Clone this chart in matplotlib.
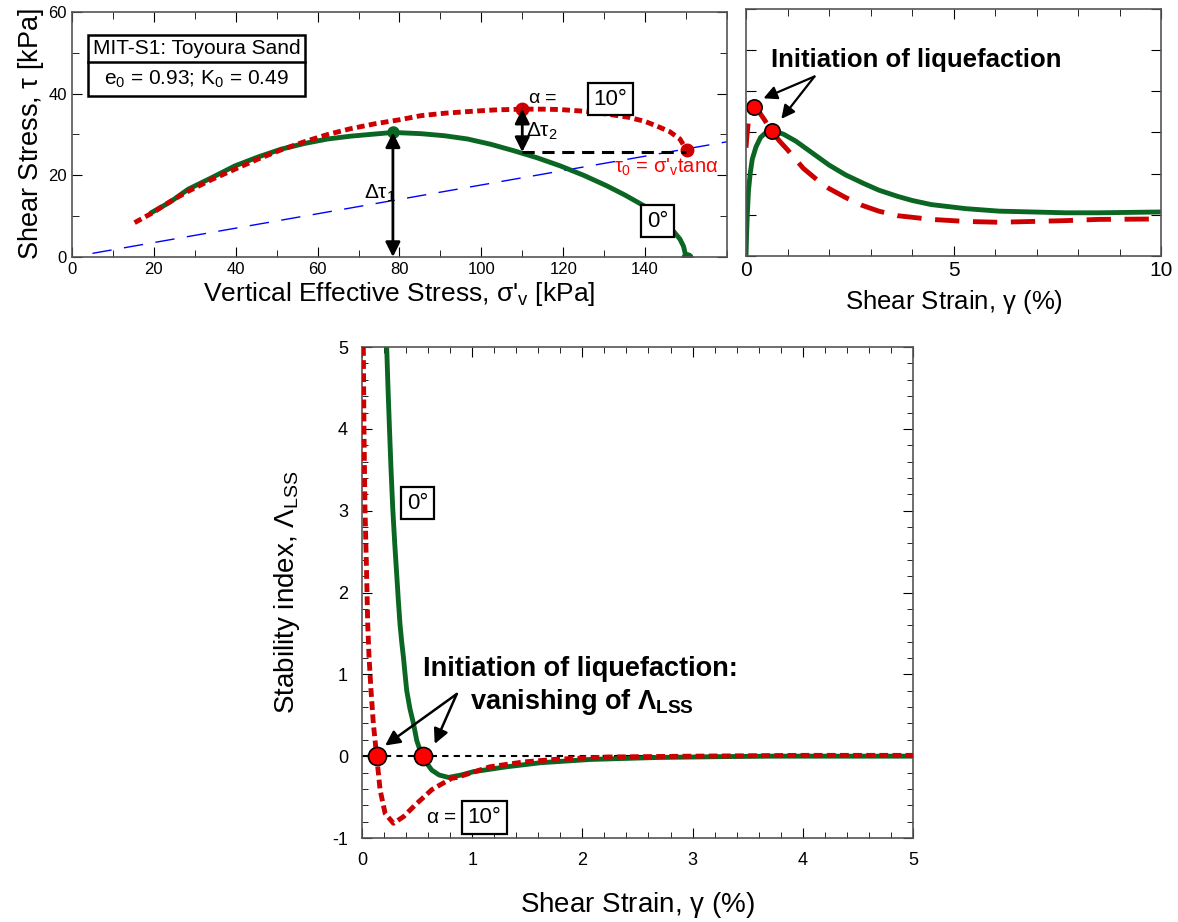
import numpy as np
import matplotlib.pyplot as plt
from matplotlib.patches import Rectangle
from matplotlib.ticker import MultipleLocator

plt.rcParams['font.family'] = ['Liberation Sans', 'DejaVu Sans']
plt.rcParams['mathtext.fontset'] = 'custom'
plt.rcParams['mathtext.rm'] = 'Liberation Sans'
plt.rcParams['mathtext.it'] = 'Liberation Sans'
plt.rcParams['mathtext.bf'] = 'Liberation Sans:bold'
plt.rcParams['axes.unicode_minus'] = False

GREEN = '#0b6623'
RED = '#cc0000'

# --- stress path (top left): vertical effective stress vs shear stress
sv_0 = [19.3, 23.9, 28.4, 34.1, 39.8, 45.5, 51.1, 56.8, 62.5, 68.2, 73.9, 78.4, 85.2, 90.9,
        96.6, 102.3, 108, 113.6, 119.3, 125, 130.7, 135.2, 139.8, 143.5, 146.6, 148.5, 149.4, 150]
tau_0 = [10.8, 13.4, 16.6, 19.4, 22.3, 24.5, 26.4, 27.8, 28.9, 29.6, 30.1, 30.5, 30.2, 29.7,
         28.9, 27.6, 26.0, 24.3, 22.3, 20.0, 17.4, 15.1, 12.5, 9.8, 6.7, 4.4, 2.6, 0]
sv_10 = [15.3, 20, 24, 28.4, 34, 39.8, 45.5, 51, 57, 62.5, 68, 73.9, 80, 85.2, 91, 96.6, 103,
         109.7, 115, 119.3, 125, 130.7, 136, 140, 143, 146, 148.5, 150]
tau_10 = [8.4, 11.0, 13.6, 16.1, 18.9, 21.5, 24.0, 26.2, 28.3, 30.0, 31.4, 32.6, 33.6, 34.6,
          35.2, 35.6, 36.0, 36.2, 36.2, 36.1, 35.7, 35.0, 34.2, 33.2, 32.0, 30.7, 28.9, 26.4]
sv_line = [5, 160]
alpha_deg = 10

# --- shear stress vs shear strain (top right)
g_0 = [0, 0.01, 0.03, 0.06, 0.1, 0.15, 0.24, 0.35, 0.5, 0.63, 0.9, 1.2, 1.6, 2.0, 2.4, 2.84,
       3.2, 3.65, 4.0, 4.46, 5.3, 6.1, 6.9, 7.7, 8.5, 10]
t_0 = [0, 4, 10, 16, 20, 23.5, 26.5, 28.8, 30.2, 30.5, 29.6, 27.9, 25.0, 22.1, 19.7, 17.6,
       16.0, 14.5, 13.5, 12.5, 11.5, 10.9, 10.7, 10.5, 10.5, 10.7]
g_10 = [0, 0.02, 0.06, 0.12, 0.19, 0.3, 0.45, 0.6, 0.8, 1.0, 1.38, 1.7, 2.0, 2.4, 2.8, 3.2,
        3.65, 4.46, 5.3, 6.1, 6.9, 7.7, 8.5, 10]
t_10 = [26.3, 29, 33, 35.5, 36.1, 35.2, 33.0, 30.5, 28.0, 25.8, 21.3, 18.6, 16.4, 14.2, 12.3,
        10.9, 9.8, 8.9, 8.4, 8.2, 8.4, 8.6, 8.9, 9.0]

# --- stability index (bottom)
s_g0 = [0.224, 0.236, 0.248, 0.263, 0.279, 0.297, 0.315, 0.33, 0.345, 0.36, 0.376, 0.391,
        0.406, 0.435, 0.467, 0.497, 0.53, 0.558, 0.59, 0.633, 0.70, 0.785, 0.9, 1.01, 1.31,
        1.62, 2.07, 2.68, 3.3, 3.7, 5]
s_l0 = [5, 4.5, 4.05, 3.52, 3.03, 2.6, 2.22, 1.9, 1.61, 1.4, 1.21, 1.0, 0.80, 0.58, 0.40,
        0.19, 0.06, 0, -0.09, -0.17, -0.23, -0.26, -0.23, -0.19, -0.13, -0.08, -0.04, -0.016,
        -0.005, 0, 0]
s_g10 = [0.012, 0.018, 0.027, 0.042, 0.052, 0.064, 0.082, 0.103, 0.133, 0.164, 0.21, 0.285,
         0.376, 0.48, 0.633, 0.71, 0.815, 0.86, 1.16, 1.47, 1.77, 2.23, 2.98, 4.0, 5]
s_l10 = [5, 4.0, 3.03, 2.22, 1.61, 1.21, 0.80, 0.40, 0, -0.41, -0.70, -0.82, -0.74, -0.60,
         -0.41, -0.35, -0.27, -0.26, -0.13, -0.07, -0.037, -0.01, 0, 0.01, 0.01]
zero_pts = [0.133, 0.558]

fig = plt.figure(figsize=(11.78, 9.22), dpi=100)

# ============ top left
ax1 = fig.add_axes([0.0611, 0.7213, 0.556, 0.2657])
tan_a = np.tan(np.radians(alpha_deg))
ax1.plot(sv_line, np.array(sv_line) * tan_a, color='blue', lw=1, dashes=(14, 9))
ax1.plot(sv_0, tau_0, color=GREEN, lw=3.5, solid_capstyle='round')
ax1.plot(sv_10, tau_10, color=RED, lw=3.5, dashes=(1.6, 0.9))
ax1.plot([78.4, 150.2], [30.5, -0.3], 'o', color=GREEN, ms=8)
ax1.plot([110, 150.2], [36.3, 26.2], 'o', color=RED, ms=9)
ax1.plot([110, 150], [25.7, 25.7], color='black', lw=2.2, dashes=(4, 2.5))
arr = dict(arrowstyle='<|-|>', color='black', lw=2, mutation_scale=22, shrinkA=0, shrinkB=0)
ax1.annotate('', xy=(78.4, 0), xytext=(78.4, 30.5), arrowprops=arr)
ax1.annotate('', xy=(110, 25.7), xytext=(110, 36.3), arrowprops=arr)
ax1.text(79, 15.5, r'$\Delta\tau_1$', fontsize=15, ha='right', va='center')
ax1.text(111, 30.8, r'$\Delta\tau_2$', fontsize=15, ha='left', va='center')
ax1.text(111.5, 38.8, r'$\alpha$ =', fontsize=14, ha='left', va='center')
ax1.text(131.5, 38.6, '10°', fontsize=16, ha='center', va='center',
         bbox=dict(boxstyle='square,pad=0.25', fc='white', ec='black', lw=1.6))
ax1.text(143, 8.8, '0°', fontsize=16, ha='center', va='center',
         bbox=dict(boxstyle='square,pad=0.25', fc='white', ec='black', lw=1.6))
ax1.text(132.5, 22, r"$\tau_0$ = σ'$_{\rm v}$tan$\alpha$", fontsize=14.5, color='red',
         ha='left', va='center')
ax1.add_patch(Rectangle((0.024, 0.657), 0.332, 0.249, transform=ax1.transAxes,
                        fill=False, ec='black', lw=1.8))
ax1.plot([0.024, 0.356], [0.796, 0.796], color='black', lw=1.8, transform=ax1.transAxes)
ax1.text(0.19, 0.851, 'MIT-S1: Toyoura Sand', transform=ax1.transAxes, fontsize=15,
         ha='center', va='center')
ax1.text(0.19, 0.726, r'e$_0$ = 0.93; K$_0$ = 0.49', transform=ax1.transAxes, fontsize=15,
         ha='center', va='center')
ax1.set_xlim(0, 160)
ax1.set_ylim(0, 60)
ax1.xaxis.set_minor_locator(MultipleLocator(10))
ax1.yaxis.set_major_locator(MultipleLocator(20))
ax1.yaxis.set_minor_locator(MultipleLocator(10))
ax1.set_xticks(range(0, 141, 20))
ax1.tick_params(which='both', direction='in', top=True, right=True, labelsize=12)
ax1.tick_params(which='major', length=7)
ax1.tick_params(which='minor', length=5)
ax1.set_xlabel(r"Vertical Effective Stress, σ'$_{\rm v}$ [kPa]", fontsize=19, labelpad=2)
ax1.set_ylabel(r'Shear Stress, $\tau$ [kPa]', fontsize=19.5, labelpad=2)

# ============ top right
ax2 = fig.add_axes([0.6333, 0.7223, 0.3523, 0.268])
ax2.plot(g_0, t_0, color=GREEN, lw=3.5)
ax2.plot(g_10, t_10, color=RED, lw=3.5, dashes=(5, 2.8))
ax2.plot([0.19, 0.63], [36.1, 30.3], 'o', mfc='red', mec='black', mew=1.2, ms=11)
ax2.text(0.6, 47.5, 'Initiation of liquefaction', fontsize=18.5, fontweight='bold',
         ha='left', va='center')
arr2 = dict(arrowstyle='-|>', color='black', lw=1.6, mutation_scale=20, shrinkA=0, shrinkB=0)
ax2.annotate('', xy=(0.42, 38.3), xytext=(1.65, 43.6), arrowprops=arr2)
ax2.annotate('', xy=(0.85, 33.3), xytext=(1.65, 43.6), arrowprops=arr2)
ax2.set_xlim(0, 10)
ax2.set_ylim(0, 60)
ax2.xaxis.set_major_locator(MultipleLocator(5))
ax2.xaxis.set_minor_locator(MultipleLocator(1))
ax2.yaxis.set_major_locator(MultipleLocator(10))
ax2.set_yticklabels([])
ax2.tick_params(which='both', direction='in', top=True, right=True, labelsize=15)
ax2.tick_params(which='major', length=7)
ax2.tick_params(which='minor', length=5)
ax2.set_xlabel(r'Shear Strain, $\gamma$ (%)', fontsize=18.5, labelpad=6)

# ============ bottom
ax3 = fig.add_axes([0.3073, 0.0911, 0.4677, 0.5325])
ax3.axhline(0, color='black', lw=1.5, dashes=(3, 2.5), zorder=1)
ax3.plot(s_g0, s_l0, color=GREEN, lw=3.5, zorder=2)
ax3.plot(s_g10, s_l10, color=RED, lw=3.5, dashes=(1.8, 0.9), zorder=3)
ax3.plot(zero_pts, [0, 0], 'o', mfc='red', mec='black', mew=1.2, ms=13, zorder=4)
ax3.text(0.503, 3.09, '0°', fontsize=16, ha='center', va='center',
         bbox=dict(boxstyle='square,pad=0.25', fc='white', ec='black', lw=1.6))
ax3.text(0.58, -0.75, r'$\alpha$ =', fontsize=15, ha='left', va='center')
ax3.text(1.11, -0.75, '10°', fontsize=16, ha='center', va='center',
         bbox=dict(boxstyle='square,pad=0.25', fc='white', ec='black', lw=1.6))
ax3.text(0.555, 1.07, 'Initiation of liquefaction:', fontsize=19.5, fontweight='bold',
         ha='left', va='center')
ax3.text(0.98, 0.66, r'vanishing of $\mathbf{\Lambda}_{\mathbf{LSS}}$', fontsize=19.5,
         fontweight='bold', ha='left', va='center')
arr3 = dict(arrowstyle='-|>', color='black', lw=1.8, mutation_scale=22, shrinkA=0, shrinkB=0)
ax3.annotate('', xy=(0.21, 0.13), xytext=(0.86, 0.76), arrowprops=arr3)
ax3.annotate('', xy=(0.66, 0.15), xytext=(0.86, 0.76), arrowprops=arr3)
ax3.set_xlim(0, 5)
ax3.set_ylim(-1, 5)
ax3.xaxis.set_major_locator(MultipleLocator(1))
ax3.xaxis.set_minor_locator(MultipleLocator(0.2))
ax3.yaxis.set_major_locator(MultipleLocator(1))
ax3.yaxis.set_minor_locator(MultipleLocator(0.2))
ax3.tick_params(which='both', direction='in', top=True, right=True, labelsize=13, pad=10)
ax3.tick_params(which='major', length=7)
ax3.tick_params(which='minor', length=4)
ax3.set_xlabel(r'Shear Strain, $\gamma$ (%)', fontsize=20, labelpad=15)
ax3.set_ylabel(r'Stability index, $\Lambda_{\rm LSS}$', fontsize=20, labelpad=22)

for ax in (ax1, ax2, ax3):
    for s in ax.spines.values():
        s.set_color('#555555')
        s.set_linewidth(1.2)

fig.savefig('out.png', dpi=100)
